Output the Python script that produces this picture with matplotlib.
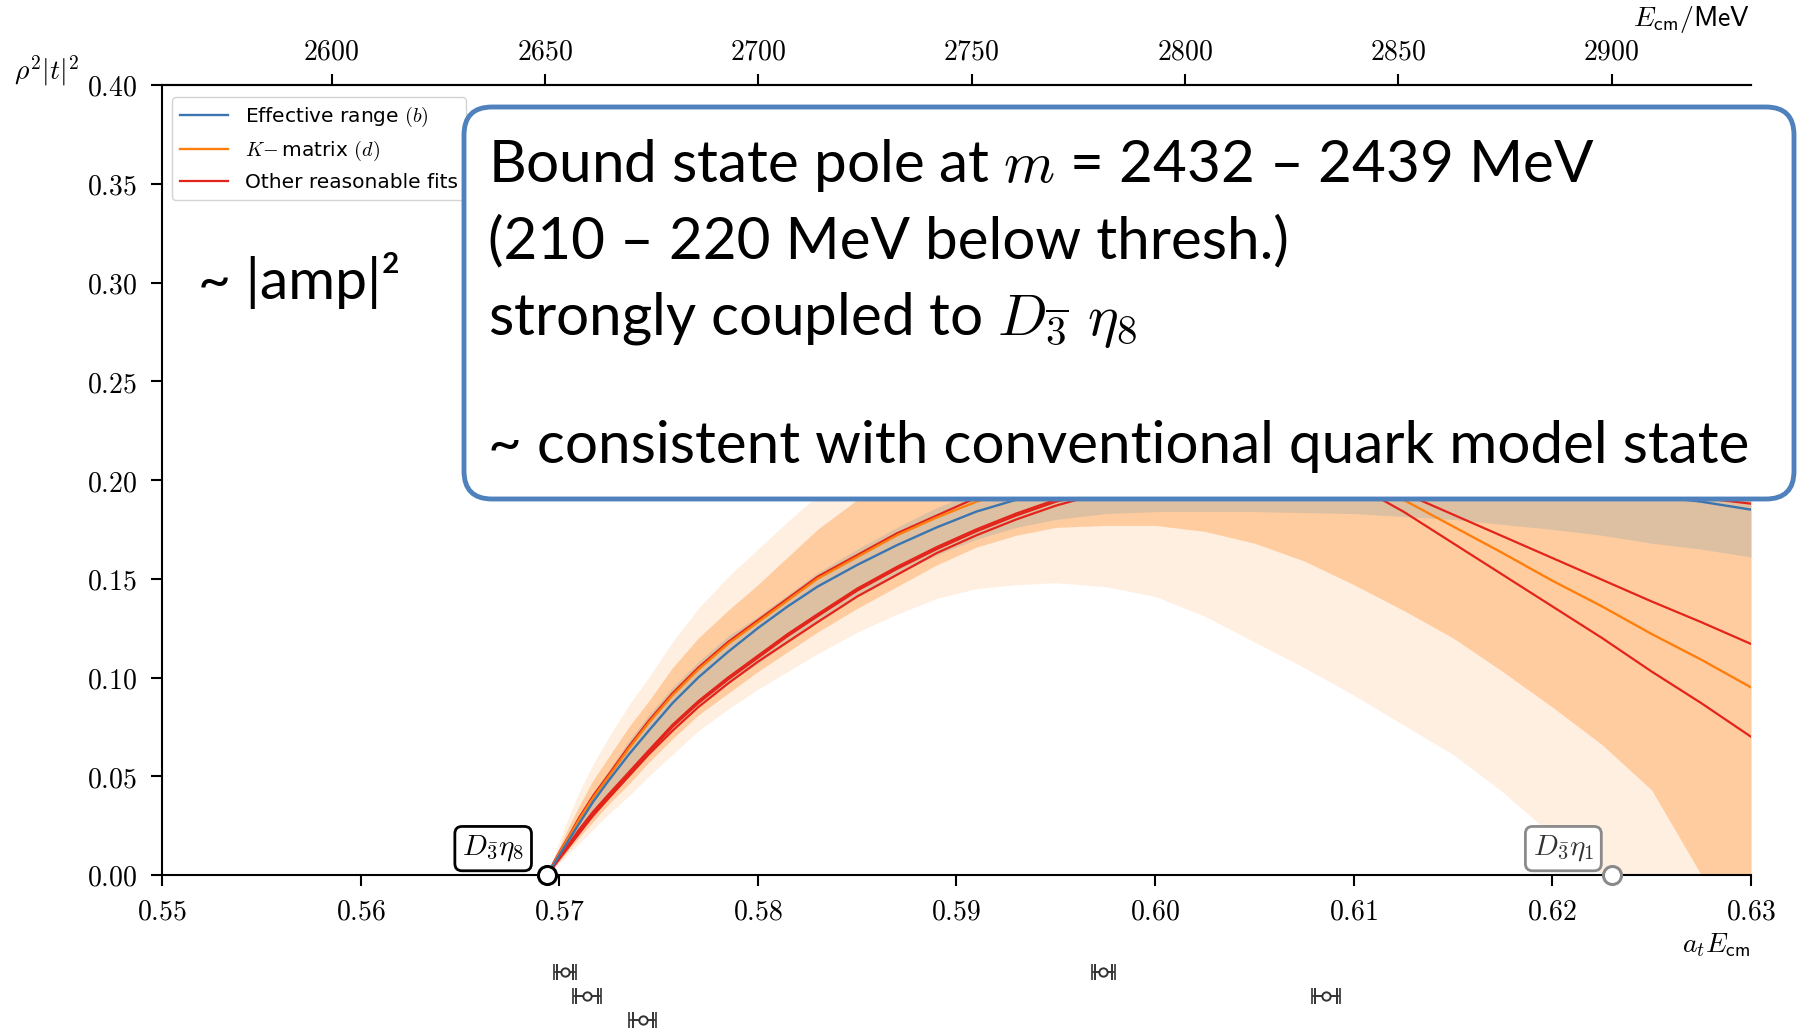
"""rho^2|t|^2 in the D_3bar eta_8 channel, with slide annotations"""

import matplotlib
matplotlib.use("Agg")
import matplotlib.pyplot as plt
from matplotlib.patches import FancyBboxPatch
from matplotlib.transforms import IdentityTransform
from matplotlib.ticker import FuncFormatter

plt.rcParams["mathtext.fontset"] = "cm"

W, H = 1797, 1030

# Lattice spacing and thresholds
AT_INV = 4655.0  # a_t^{-1} in MeV
THR_ETA8 = 0.5694
THR_ETA1 = 0.6230

# Energy grid (a_t E_cm) the curves were read at
x_grid = [0.5694, 0.5697, 0.5700, 0.5705, 0.5710, 0.5717, 0.5725, 0.5735, 0.5745, 0.5757,
          0.5770, 0.5785, 0.5800, 0.5815, 0.5830, 0.5850, 0.5870, 0.5890, 0.5910, 0.5930,
          0.5950, 0.5975, 0.6000, 0.6025, 0.6050, 0.6075, 0.6100, 0.6125, 0.6150, 0.6175,
          0.6200, 0.6225, 0.6250, 0.6275, 0.6300]

# Effective range (b): central value and band
eff = [0, .005, .010, .018, .026, .037, .048, .061, .073, .087,
       .100, .113, .125, .136, .146, .157, .167, .176, .184, .190,
       .196, .201, .205, .208, .209, .2095, .209, .207, .205, .202,
       .199, .196, .192, .189, .185]
eff_lo = [0, .004, .008, .0145, .021, .030, .039, .050, .061, .073,
          .085, .097, .107, .118, .128, .141, .152, .162, .170, .176,
          .180, .183, .184, .184, .184, .1835, .183, .1815, .180, .1775,
          .175, .172, .168, .165, .161]
eff_hi = [0, .006, .012, .021, .030, .042, .053, .068, .081, .095,
          .108, .121, .131, .142, .153, .165, .176, .186, .194, .201,
          .207, .213, .218, .221, .224, .225, .226, .225, .224, .222,
          .220, .218, .215, .213, .210]

# K-matrix (d): central value and band
kmat = [0, .0055, .011, .0195, .028, .039, .050, .064, .077, .091,
        .104, .117, .128, .139, .150, .161, .172, .181, .189, .196,
        .201, .205, .208, .209, .207, .205, .200, .190, .1765, .163,
        .149, .136, .122, .109, .095]
kmat_lo = [0, .0035, .007, .013, .019, .027, .036, .046, .057, .069,
           .081, .092, .103, .113, .123, .135, .146, .157, .166, .172,
           .176, .177, .177, .174, .168, .159, .147, .134, .120, .103,
           .085, .066, .043, .000, .000]
kmat_hi = [0, .007, .014, .025, .035, .048, .060, .075, .088, .105,
           .120, .134, .147, .161, .175, .190, .205, .216, .225, .233,
           .240, .245, .250, .253, .255, .255, .255, .253, .250, .248,
           .245, .242, .240, .237, .235]

# Envelope of all fits
all_lo = [0, .003, .006, .011, .016, .023, .031, .040, .050, .061,
          .073, .084, .094, .103, .112, .123, .132, .140, .145, .147,
          .148, .146, .141, .131, .118, .105, .091, .076, .061, .042,
          .020, .000, .000, .000, .000]
all_hi = [0, .0085, .017, .030, .042, .056, .070, .086, .100, .118,
          .135, .151, .165, .179, .192, .208, .222, .235, .245, .253,
          .260, .265, .270, .273, .275, .275, .275, .274, .270, .266,
          .262, .258, .254, .250, .246]

# Other reasonable fits
other_fits = [
    [0, .004, .008, .0145, .021, .030, .039, .050, .061, .073,
     .085, .097, .108, .118, .128, .141, .152, .163, .172, .180,
     .187, .194, .199, .2025, .2045, .203, .198, .184, .168, .152,
     .136, .120, .103, .087, .070],
    [0, .0045, .009, .016, .023, .032, .041, .052, .063, .076,
     .088, .100, .111, .122, .132, .145, .156, .166, .175, .183,
     .190, .196, .200, .203, .205, .205, .203, .1935, .1825, .1715,
     .1605, .1495, .1385, .128, .117],
    [0, .00425, .0085, .015, .022, .031, .040, .051, .062, .075,
     .087, .099, .110, .121, .131, .144, .155, .165, .174, .182,
     .189, .195, .200, .203, .205, .205, .205, .204, .202, .200,
     .198, .196, .193, .191, .188],
    [0, .006, .0115, .020, .029, .040, .051, .065, .078, .092,
     .105, .118, .129, .140, .151, .162, .173, .182, .191, .198,
     .203, .208, .212, .214, .216, .216, .216, .215, .213, .211,
     .208, .205, .202, .199, .196],
]

# Finite-volume energy levels shown under the axis
lev_x = [0.5703, 0.5714, 0.5742, 0.5974, 0.6086]
lev_err_out = [0.00055, 0.0007, 0.00067, 0.0006, 0.00069]
lev_err_in = [0.0004, 0.00055, 0.0005, 0.00045, 0.00055]
lev_row = [0, 1, 2, 0, 1]

x_ticks = [0.55, 0.56, 0.57, 0.58, 0.59, 0.60, 0.61, 0.62, 0.63]
y_ticks = [0.00, 0.05, 0.10, 0.15, 0.20, 0.25, 0.30, 0.35, 0.40]
e_ticks = [2600, 2650, 2700, 2750, 2800, 2850, 2900]

BLUE = "#3a75b0"
ORANGE = "#ff7f0e"
RED = "#e3241b"
BOX_BLUE = "#4f81bd"

fig = plt.figure(figsize=(W / 100, H / 100), dpi=100)
ax = fig.add_axes([162 / W, 1 - 875 / H, (1751 - 162) / W, (875 - 85) / H])

# Bands
ax.fill_between(x_grid, all_lo, all_hi, color=ORANGE, alpha=0.12, lw=0)
ax.fill_between(x_grid, kmat_lo, kmat_hi, color=ORANGE, alpha=0.31, lw=0)
ax.fill_between(x_grid, eff_lo, eff_hi, color="C0", alpha=0.15, lw=0)

# Curves
for i, yv in enumerate(other_fits):
    ax.plot(x_grid, yv, color=RED, lw=1.6,
            label="Other reasonable fits" if i == 0 else None, zorder=3)
ax.plot(x_grid, kmat, color=ORANGE, lw=1.7, label=r"$K\!-$matrix $(d)$", zorder=4)
ax.plot(x_grid, eff, color=BLUE, lw=1.7, label=r"Effective range $(b)$", zorder=5)

# Thresholds
ax.plot([THR_ETA8], [0], "o", ms=13, mfc="white", mec="black", mew=2.2,
        clip_on=False, zorder=10)
ax.plot([THR_ETA1], [0], "o", ms=13, mfc="white", mec="#8a8a8a", mew=2.2,
        clip_on=False, zorder=10)
ax.annotate(r"$D_{\bar{\mathbf{3}}}\eta_{\mathbf{8}}$", xy=(THR_ETA8, 0),
            xytext=(-39, 19), textcoords="offset points", ha="center", va="center",
            fontsize=21, zorder=11,
            bbox=dict(boxstyle="round,pad=0.25", fc="white", ec="black", lw=2))
ax.annotate(r"$D_{\bar{\mathbf{3}}}\eta_{\mathbf{1}}$", xy=(THR_ETA1, 0),
            xytext=(-35, 19), textcoords="offset points", ha="center", va="center",
            fontsize=21, color="#333333", zorder=11,
            bbox=dict(boxstyle="round,pad=0.25", fc="white", ec="#8a8a8a", lw=2))

ax.set_xlim(0.55, 0.63)
ax.set_ylim(0, 0.40)
ax.set_xticks(x_ticks)
ax.set_yticks(y_ticks)
ax.xaxis.set_major_formatter(FuncFormatter(lambda v, p: f"${v:.2f}$"))
ax.yaxis.set_major_formatter(FuncFormatter(lambda v, p: f"${v:.2f}$"))
ax.tick_params(length=8, width=1.5, labelsize=20)
ax.tick_params(axis="x", pad=8)
ax.tick_params(axis="y", pad=10)
ax.spines["right"].set_visible(False)
for s in ("left", "bottom", "top"):
    ax.spines[s].set_linewidth(1.5)

secax = ax.secondary_xaxis("top", functions=(lambda a: a * AT_INV, lambda e: e / AT_INV))
secax.set_xticks(e_ticks)
secax.xaxis.set_major_formatter(FuncFormatter(lambda v, p: f"${int(round(v))}$"))
secax.tick_params(length=8, width=1.5, labelsize=20, pad=6)
secax.spines["top"].set_linewidth(1.5)

ax.text(0.9994, -0.0886, r"$a_t E_{\mathsf{cm}}$", transform=ax.transAxes,
        ha="right", va="center", fontsize=20)
ax.text(0.9994, 1.0835, r"$E_{\mathsf{cm}}/\mathsf{MeV}$", transform=ax.transAxes,
        ha="right", va="center", fontsize=20)
ax.text(-0.0724, 1.0177, r"$\rho^2|t|^2$", transform=ax.transAxes,
        ha="center", va="center", fontsize=20)

handles, labels = ax.get_legend_handles_labels()
order = [2, 1, 0]
ax.legend([handles[i] for i in order], [labels[i] for i in order],
          loc="upper left", bbox_to_anchor=(0.0063, 0.985), borderaxespad=0,
          fontsize=14.5, handlelength=2.4, framealpha=0.85, edgecolor="#cccccc")

# Energy levels underneath
ax_lev = fig.add_axes([162 / W, 0, (1751 - 162) / W, 69.6 / H], sharex=ax)
ax_lev.axis("off")
ax_lev.set_ylim(2.4, -0.5)
ax_lev.errorbar(lev_x, lev_row, xerr=lev_err_out, fmt="none", ecolor="#333333",
                elinewidth=1.2, capsize=6, capthick=1.2)
ax_lev.errorbar(lev_x, lev_row, xerr=lev_err_in, fmt="o", ms=6, mfc="white",
                mec="#333333", mew=1.4, ecolor="#333333", elinewidth=1.2,
                capsize=6, capthick=1.2)

# Slide annotations
box = FancyBboxPatch((464, H - 499), 1330, 392, boxstyle="round,pad=0,rounding_size=28",
                     transform=IdentityTransform(), fc="white", ec=BOX_BLUE, lw=3.5,
                     zorder=5)
fig.add_artist(box)

BOX_FONT = "Lato"
box_lines = [
    (182, r"Bound state pole at $m$ = 2432 – 2439 MeV"),
    (258, "(210 – 220 MeV below thresh.)"),
    (335, r"strongly coupled to $D_{\overline{3}}\ \eta_8$"),
    (463, "~ consistent with conventional quark model state"),
]
for yb, s in box_lines:
    fig.text(488 / W, 1 - yb / H, s, ha="left", va="baseline", fontsize=42,
             family=BOX_FONT, zorder=6)

fig.text(198 / W, 1 - 299 / H, "~ |amp|²", ha="left", va="baseline", fontsize=41,
         family=BOX_FONT, zorder=6)

fig.savefig("out.png", dpi=100)
